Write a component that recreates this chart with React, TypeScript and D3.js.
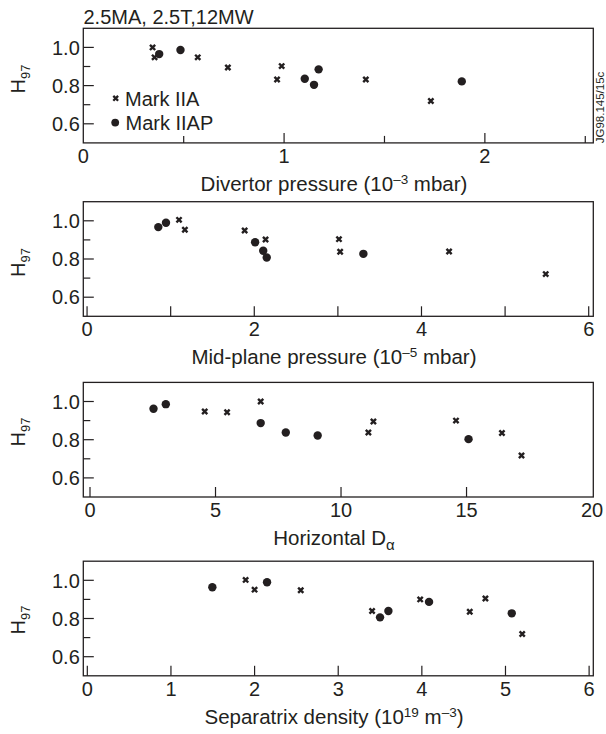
import React from 'react';
import * as d3 from 'd3';

const FONT = "'Liberation Sans', Arial, Helvetica, sans-serif";
const INK = '#231f20';

// ---------- data (x, H97) ----------
const divertorIIA: [number, number][] = [
  [0.345, 1.0], [0.355, 0.948], [0.57, 0.948], [0.72, 0.895],
  [0.965, 0.832], [0.988, 0.902], [1.407, 0.832], [1.731, 0.719],
];
const divertorIIAP: [number, number][] = [
  [0.378, 0.965], [0.484, 0.986], [1.103, 0.836], [1.149, 0.804],
  [1.172, 0.885], [1.885, 0.822],
];
const midplaneIIA: [number, number][] = [
  [1.1, 1.005], [1.17, 0.953], [1.885, 0.949], [2.135, 0.902],
  [3.013, 0.904], [3.027, 0.838], [4.33, 0.839], [5.486, 0.721],
];
const midplaneIIAP: [number, number][] = [
  [0.852, 0.967], [0.944, 0.99], [2.01, 0.888], [2.107, 0.843],
  [2.149, 0.808], [3.305, 0.827],
];
const dalphaIIA: [number, number][] = [
  [4.57, 0.948], [5.46, 0.944], [6.8, 1.0], [11.09, 0.838],
  [11.29, 0.895], [14.58, 0.9], [16.41, 0.835], [17.19, 0.717],
];
const dalphaIIAP: [number, number][] = [
  [2.53, 0.962], [3.02, 0.986], [6.8, 0.887], [7.8, 0.838],
  [9.07, 0.822], [15.08, 0.803],
];
const sepIIA: [number, number][] = [
  [1.893, 1.002], [2.0, 0.951], [2.552, 0.948], [3.405, 0.839],
  [3.98, 0.9], [4.573, 0.835], [4.76, 0.905], [5.2, 0.719],
];
const sepIIAP: [number, number][] = [
  [1.495, 0.964], [2.149, 0.99], [3.5, 0.806], [3.6, 0.839],
  [4.086, 0.887], [5.075, 0.827],
];

// ---------- ticks ----------
const divertorXMajor = [1, 2];
const divertorXMinor = [0.5, 1.5, 2.5];
const divertorXLabels = [0, 1, 2];
const midplaneXMajor = [0, 1, 2, 3, 4, 5, 6];
const midplaneXLabels = [0, 2, 4, 6];
const dalphaXMajor = [0, 5, 10, 15];
const dalphaXLabels = [0, 5, 10, 15, 20];
const sepXMajor = [0, 1, 2, 3, 4, 5, 6];
const sepXLabels = [0, 1, 2, 3, 4, 5, 6];
const yMajor = [0.6, 0.8, 1.0];
const yMinor = [0.7, 0.9];

const legendLabels = ['Mark IIA', 'Mark IIAP'];
const topTitle = '2.5MA, 2.5T,12MW';
const figId = 'JG98.145/15c';

// ---------- layout ----------
const LEFT = 83.3;
const RIGHT = 593.3;
const H = 114.6;

type Panel = {
  top: number;
  xDomain: [number, number];
  major: number[];
  minor: number[];
  labels: number[];
  iia: [number, number][];
  iiap: [number, number][];
  yLabelCenter: number;
  title: React.ReactNode;
};

const SUP = { fontSize: 13.5 };

const panels: Panel[] = [
  {
    top: 28.3, xDomain: [0, 2.54], major: divertorXMajor, minor: divertorXMinor,
    labels: divertorXLabels, iia: divertorIIA, iiap: divertorIIAP, yLabelCenter: 50.7,
    title: (
      <>Divertor pressure (10<tspan dy={-7} style={SUP}>–3</tspan><tspan dy={7}> mbar)</tspan></>
    ),
  },
  {
    top: 201.7, xDomain: [-0.045, 6.055], major: midplaneXMajor, minor: [],
    labels: midplaneXLabels, iia: midplaneIIA, iiap: midplaneIIAP, yLabelCenter: 60.8,
    title: (
      <>Mid-plane pressure (10<tspan dy={-7} style={SUP}>–5</tspan><tspan dy={7}> mbar)</tspan></>
    ),
  },
  {
    top: 382.4, xDomain: [-0.267, 20.05], major: dalphaXMajor, minor: [],
    labels: dalphaXLabels, iia: dalphaIIA, iiap: dalphaIIAP, yLabelCenter: 49.6,
    title: (
      <>Horizontal D<tspan dy={5} style={{ fontSize: 15 }}>α</tspan></>
    ),
  },
  {
    top: 561.2, xDomain: [-0.048, 6.05], major: sepXMajor, minor: [],
    labels: sepXLabels, iia: sepIIA, iiap: sepIIAP, yLabelCenter: 58.8,
    title: (
      <>Separatrix density (10<tspan dy={-7} style={SUP}>19</tspan><tspan dy={7}> m</tspan><tspan dy={-7} style={SUP}>–3</tspan><tspan dy={7}>)</tspan></>
    ),
  },
];

const cross = (x: number, y: number, s = 2.6) =>
  `M${x - s},${y - s}L${x + s},${y + s}M${x - s},${y + s}L${x + s},${y - s}`;

function PanelView({ p, idx }: { p: Panel; idx: number }) {
  const x = d3.scaleLinear().domain(p.xDomain).range([LEFT, RIGHT]);
  const y = d3.scaleLinear().domain([0.5, 1.1]).range([p.top + H, p.top]);
  const bottom = p.top + H;
  const fmtY = d3.format('.1f');
  return (
    <g>
      {yMajor.map((v) => (
        <g key={'ym' + v}>
          <line x1={LEFT} x2={LEFT + 10.5} y1={y(v)} y2={y(v)} stroke={INK} strokeWidth={1.2} />
          <text x={LEFT - 3.5} y={y(v)} dy="0.36em" textAnchor="end" fontSize={20} fill={INK}>
            {fmtY(v)}
          </text>
        </g>
      ))}
      {yMinor.map((v) => (
        <line key={'yn' + v} x1={LEFT} x2={LEFT + 7} y1={y(v)} y2={y(v)} stroke={INK} strokeWidth={1.2} />
      ))}
      {p.major.map((v) => (
        <line key={'xm' + v} x1={x(v)} x2={x(v)} y1={bottom} y2={bottom - 10} stroke={INK} strokeWidth={1.2} />
      ))}
      {p.minor.map((v) => (
        <line key={'xn' + v} x1={x(v)} x2={x(v)} y1={bottom} y2={bottom - 7} stroke={INK} strokeWidth={1.2} />
      ))}
      {p.labels.map((v) => (
        <text key={'xl' + v} x={x(v)} y={bottom + 19.8} textAnchor="middle" fontSize={20} fill={INK}>
          {String(v)}
        </text>
      ))}
      <rect x={LEFT} y={p.top} width={RIGHT - LEFT} height={H} fill="none" stroke={INK} strokeWidth={1.3} />
      {p.iia.map(([a, b], i) => (
        <path key={'a' + i} d={cross(x(a), y(b))} stroke={INK} strokeWidth={2.4} fill="none" />
      ))}
      {p.iiap.map(([a, b], i) => (
        <circle key={'p' + i} cx={x(a)} cy={y(b)} r={4.2} fill={INK} />
      ))}
      <text
        transform={`translate(25,${p.top + p.yLabelCenter}) rotate(-90)`}
        textAnchor="middle" fontSize={20} fill={INK}
      >
        H<tspan dy={5} style={{ fontSize: 13 }}>97</tspan>
      </text>
      <text x={334} y={bottom + 47.8} textAnchor="middle" fontSize={20.5} fill={INK}>
        {p.title}
      </text>
      {idx === 0 && (
        <g>
          <path d={cross(115.7, 98.3, 2.4)} stroke={INK} strokeWidth={2.3} fill="none" />
          <text x={125} y={106} fontSize={20} fill={INK}>{legendLabels[0]}</text>
          <circle cx={115.2} cy={122.6} r={3.9} fill={INK} />
          <text x={125.5} y={130.2} fontSize={20} fill={INK}>{legendLabels[1]}</text>
        </g>
      )}
    </g>
  );
}

export default function App() {
  return (
    <svg
      width={606}
      height={734}
      viewBox="0 0 606 734"
      style={{ position: 'absolute', left: 0, top: 0, background: '#fff' }}
      fontFamily={FONT}
    >
      <rect x={0} y={0} width={606} height={734} fill="#fff" />
      <text x={83.5} y={24} fontSize={20} fill={INK}>{topTitle}</text>
      <text transform="translate(604,143.3) rotate(-90)" fontSize={11.5} fill={INK}>{figId}</text>
      {panels.map((p, i) => (
        <PanelView key={i} p={p} idx={i} />
      ))}
    </svg>
  );
}
